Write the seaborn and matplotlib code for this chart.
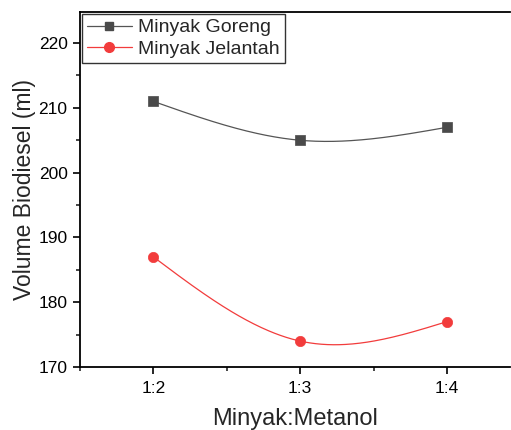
import numpy as np
import pandas as pd
import matplotlib
matplotlib.use("Agg")
import matplotlib.pyplot as plt
from matplotlib.lines import Line2D
from matplotlib.ticker import MultipleLocator
import seaborn as sns

categories = ["1:2", "1:3", "1:4"]
goreng = [211, 205, 207]
jelantah = [187, 174, 177]

sns.set_theme(style="ticks")
plt.rcParams['font.family'] = ['Liberation Sans', 'DejaVu Sans']

def natural_spline(xs, ys, n=200):
    xs = np.asarray(xs, float); ys = np.asarray(ys, float)
    k = len(xs)
    h = np.diff(xs)
    A = np.zeros((k, k)); b = np.zeros(k)
    A[0, 0] = 1; A[-1, -1] = 1
    for i in range(1, k - 1):
        A[i, i - 1] = h[i - 1]; A[i, i] = 2 * (h[i - 1] + h[i]); A[i, i + 1] = h[i]
        b[i] = 6 * ((ys[i + 1] - ys[i]) / h[i] - (ys[i] - ys[i - 1]) / h[i - 1])
    M = np.linalg.solve(A, b)
    xx = np.linspace(xs[0], xs[-1], n); yy = np.empty_like(xx)
    for j, x in enumerate(xx):
        i = min(np.searchsorted(xs, x, side='right') - 1, k - 2)
        a = xs[i + 1] - x; c = x - xs[i]
        yy[j] = (M[i] * a**3 + M[i + 1] * c**3) / (6 * h[i]) + (ys[i] - M[i] * h[i]**2 / 6) * a / h[i] + (ys[i + 1] - M[i + 1] * h[i]**2 / 6) * c / h[i]
    return xx, yy

xpos = np.arange(1, len(categories) + 1)
gcol = "#4a4a4a"; gline = "#555555"
rcol = "#f23c3c"

fig = plt.figure(figsize=(5.11, 4.30), dpi=100)
ax = fig.add_axes([80/511, 63/430, 430/511, 355/430])

for vals, lc, mc, mk in [(goreng, gline, gcol, "s"), (jelantah, rcol, rcol, "o")]:
    xx, yy = natural_spline(xpos, vals)
    sns.lineplot(x=xx, y=yy, ax=ax, color=lc, lw=0.9, sort=False)
    sns.scatterplot(x=xpos, y=vals, ax=ax, color=mc, marker=mk, s=45 if mk == "s" else 55,
                    edgecolor=mc, linewidth=0.5, zorder=3)

ax.set_xlim(0.5, 3.43)
ax.set_ylim(170, 224.8)
ax.set_xticks(xpos)
ax.set_xticklabels(categories)
ax.xaxis.set_minor_locator(MultipleLocator(0.5))
ax.yaxis.set_major_locator(MultipleLocator(10))
ax.yaxis.set_minor_locator(MultipleLocator(5))
ax.tick_params(axis='both', which='major', direction='out', length=5, width=1.2, labelsize=12.5, colors='black', pad=4)
ax.tick_params(axis='both', which='minor', direction='out', length=3, width=1.2)
ax.tick_params(axis='x', pad=5)
ax.spines['right'].set_visible(False)
for s in ['left', 'bottom', 'top']:
    ax.spines[s].set_linewidth(1.3)
    ax.spines[s].set_color('black')

ax.set_xlabel("Minyak:Metanol", fontsize=17, labelpad=9)
ax.set_ylabel("Volume Biodiesel (ml)", fontsize=16.5, labelpad=2)

handles = [Line2D([0], [0], color=gline, lw=0.9, marker='s', markersize=6, markerfacecolor=gcol, markeredgecolor=gcol),
           Line2D([0], [0], color=rcol, lw=0.9, marker='o', markersize=7, markerfacecolor=rcol, markeredgecolor=rcol)]
leg = ax.legend(handles, ["Minyak Goreng", "Minyak Jelantah"], loc='upper left', bbox_to_anchor=(0.0, 1.0),
                fontsize=14, frameon=True, fancybox=False, edgecolor='black', borderpad=0.25,
                labelspacing=0.2, handlelength=2.3, handletextpad=0.35, borderaxespad=0.1)
leg.get_frame().set_linewidth(1.0)

fig.savefig("out.png", dpi=100)
